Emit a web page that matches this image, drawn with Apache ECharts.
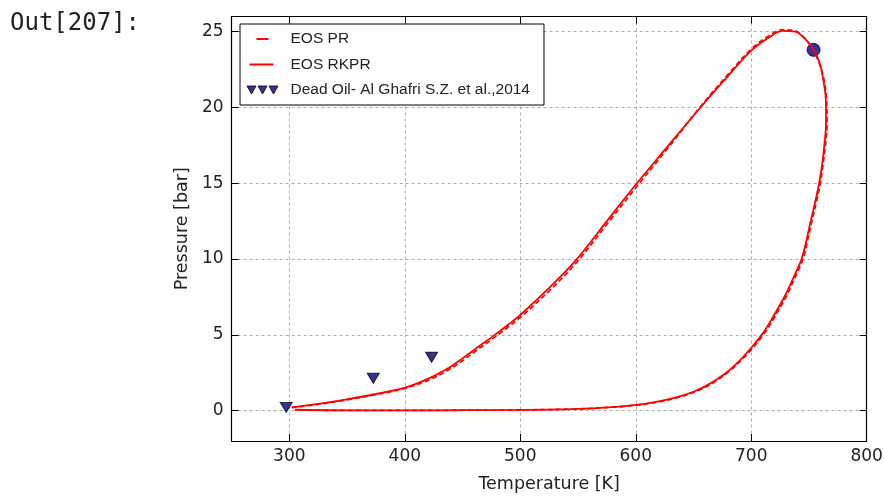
<!DOCTYPE html>
<html>
<head>
<meta charset="utf-8">
<script src="https://cdn.jsdelivr.net/npm/echarts@6/dist/echarts.min.js"></script>
<style>html,body{margin:0;padding:0;background:#fff;}#c{width:884px;height:496px;}</style>
</head>
<body>
<div id="c"></div>
<script>
// Tick values
const xTicks = [300, 400, 500, 600, 700, 800];
const yTicks = [0, 5, 10, 15, 20, 25];

// EOS RKPR phase envelope (T [K], P [bar]) - bubble side then dew side
const rkprT = [302,325,350,375,401,420,436,450,462,478,490,500,525,549,575,601,624,656,679,700,715,727,738,747,754,759,762,764.6,764.8,763.3,761.5,758.8,755.5,751.5,748,743.6,737,729,719,710,700,690,680,670,660,650,635,620,600,580,550,500,450,400,350,305];
const rkprP = [0.22,0.45,0.75,1.1,1.54,2.1,2.73,3.45,4.12,5.0,5.7,6.31,8.1,10.0,12.5,15.0,17.1,20.0,22.0,23.75,24.6,25.05,25.0,24.5,23.8,23.0,22.0,20.5,19.0,17.5,16.3,15.0,13.8,12.5,11.3,10.0,8.85,7.55,6.2,5.1,4.15,3.3,2.6,2.05,1.6,1.25,0.88,0.62,0.38,0.24,0.12,0.05,0.03,0.02,0.02,0.06];

// EOS PR phase envelope
const prT = [302,325,350,375,401,420,436,450,462,478,490,500,525,549,575,601,624,656,679,700,715,727,738,747,754,759,762.5,765.2,765.6,764.2,762.3,759.8,756.5,752.5,749,744.8,738.3,730.4,720.4,711.3,701.4,691,681,671,661,651,636,621,601,580,550,500,450,400,350,305];
const prP = [0.2,0.42,0.72,1.06,1.49,2.0,2.6,3.3,3.97,4.85,5.55,6.15,7.9,9.8,12.3,14.8,16.95,20.05,22.1,23.85,24.72,25.12,25.05,24.5,23.75,22.9,22.0,20.5,19.0,17.5,16.3,15.0,13.8,12.5,11.3,10.0,8.85,7.55,6.2,5.1,4.15,3.3,2.6,2.05,1.58,1.23,0.86,0.6,0.36,0.23,0.11,0.05,0.03,0.02,0.02,0.06];

// Experimental data: Dead Oil - Al Ghafri S.Z. et al., 2014
const expT = [297.3, 372.7, 423.2];
const expP = [0.22, 2.14, 3.52];

// Critical point
const critT = [754];
const critP = [23.8];

const zip = (a, b) => a.map((v, i) => [v, b[i]]);

const chart = echarts.init(document.getElementById('c'), null, {renderer: 'canvas'});

const tickFont = {fontFamily: 'DejaVu Sans', fontSize: 17, color: '#222'};
const gridLine = {show: true, lineStyle: {color: '#ababab', width: 1, type: [3, 3]}};
const axLine = {show: true, onZero: false, lineStyle: {color: '#000', width: 1.2}};

chart.setOption({
  animation: false,
  backgroundColor: '#fff',
  title: {
    text: 'Out[207]:', left: 5, top: 7,
    textStyle: {fontFamily: 'DejaVu Sans Mono', fontSize: 24, fontWeight: 'normal', color: '#222'}
  },
  grid: {left: 231.6, right: 17.3, top: 16.5, bottom: 55, outerBoundsMode: 'none', containLabel: false},
  legend: {
    orient: 'vertical', left: 240, top: 24,
    padding: [6, 14, 6, 6],
    borderColor: '#000', borderWidth: 1, backgroundColor: '#fff',
    itemWidth: 32, itemHeight: 12, itemGap: 7.5,
    textStyle: {fontFamily: 'Liberation Sans', fontSize: 15.5, color: '#222', lineHeight: 18, padding: [0, 0, 0, 7]},
    data: [
      {name: 'EOS PR', icon: 'path://M0,0h0.01v0.01h-0.01z M10,5h12v2h-12z M31.99,11.99h0.01v0.01h-0.01z', itemStyle: {color: '#ff0000', borderWidth: 0}},
      {name: 'EOS RKPR', icon: 'path://M0,0h0.01v0.01h-0.01z M3,5h24v2h-24z M31.99,11.99h0.01v0.01h-0.01z', itemStyle: {color: '#ff0000', borderWidth: 0}},
      {name: 'Dead Oil- Al Ghafri S.Z. et al.,2014', icon: 'path://M0,0h0.01v0.01h-0.01z M0.5,2h9l-4.5,8z M11.5,2h9l-4.5,8z M22.5,2h9l-4.5,8z M31.99,11.99h0.01v0.01h-0.01z', itemStyle: {color: '#000080', borderColor: '#000', borderWidth: 1}}
    ]
  },
  xAxis: [
    {
      type: 'value', min: 250, max: 800, position: 'bottom',
      name: 'Temperature [K]', nameLocation: 'middle', nameGap: 34,
      nameTextStyle: {fontFamily: 'DejaVu Sans', fontSize: 17.5, color: '#222'},
      axisLine: axLine,
      axisTick: {show: true, inside: true, length: 7, customValues: xTicks, lineStyle: {color: '#000'}},
      axisLabel: {show: true, customValues: xTicks, margin: 7, ...tickFont},
      splitLine: gridLine
    },
    {
      type: 'value', min: 250, max: 800, position: 'top',
      axisLine: axLine,
      axisTick: {show: true, inside: true, length: 7, customValues: xTicks, lineStyle: {color: '#000'}},
      axisLabel: {show: false},
      splitLine: {show: false}
    }
  ],
  yAxis: [
    {
      type: 'value', min: -2, max: 26, position: 'left',
      name: 'Pressure [bar]', nameLocation: 'middle', nameGap: 40,
      nameTextStyle: {fontFamily: 'DejaVu Sans', fontSize: 17.5, color: '#222'},
      axisLine: axLine,
      axisTick: {show: true, inside: true, length: 7, customValues: yTicks, lineStyle: {color: '#000'}},
      axisLabel: {show: true, customValues: yTicks, margin: 8, ...tickFont},
      splitLine: gridLine
    },
    {
      type: 'value', min: -2, max: 26, position: 'right',
      axisLine: axLine,
      axisTick: {show: true, inside: true, length: 7, customValues: yTicks, lineStyle: {color: '#000'}},
      axisLabel: {show: false},
      splitLine: {show: false}
    }
  ],
  series: [
    {
      name: 'critical', type: 'scatter', data: zip(critT, critP),
      symbol: 'circle', symbolSize: 13, z: 1,
      itemStyle: {color: '#000080', borderColor: '#000', borderWidth: 1}
    },
    {
      name: 'EOS PR', type: 'line', data: zip(prT, prP), smooth: 0.35,
      showSymbol: false, symbol: 'none', z: 2,
      lineStyle: {color: '#ff0000', width: 1.8, type: [5, 3]},
      itemStyle: {color: '#ff0000'}
    },
    {
      name: 'EOS RKPR', type: 'line', data: zip(rkprT, rkprP), smooth: 0.35,
      showSymbol: false, symbol: 'none', z: 3,
      lineStyle: {color: '#ff0000', width: 1.8},
      itemStyle: {color: '#ff0000'}
    },
    {
      name: 'Dead Oil- Al Ghafri S.Z. et al.,2014', type: 'scatter', data: zip(expT, expP),
      symbol: 'triangle', symbolRotate: 180, symbolSize: [12, 10], z: 4,
      itemStyle: {color: '#000080', borderColor: '#000', borderWidth: 1}
    }
  ]
});
</script>
</body>
</html>
